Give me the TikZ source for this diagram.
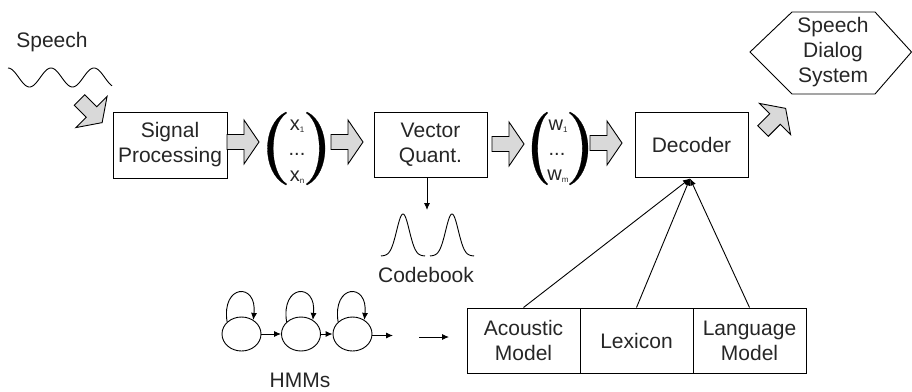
\documentclass[tikz,border=0pt]{standalone}
\usepackage{fontspec}
\setmainfont{Liberation Sans}
\usetikzlibrary{arrows.meta,shapes.geometric}
\newcommand{\vsub}[1]{\raisebox{-2pt}{\fontsize{8}{8}\selectfont #1}}
\begin{document}
\begin{tikzpicture}[x=1pt,y=-1pt,
  every node/.style={text=black!85, font=\fontsize{21}{25}\selectfont},
  box/.style={draw=black, line width=1pt, minimum width=113pt, minimum height=65pt, align=center, inner sep=0pt},
  arr/.style={-{Latex[length=7pt,width=6pt]}, line width=0.9pt},
  hmmstate/.style={draw=black, ellipse, minimum width=39pt, minimum height=34pt, inner sep=0pt, line width=0.9pt},
  vec/.style={font=\fontsize{20}{20}\selectfont, anchor=base, inner sep=0pt},
  paren/.style={fill=black, draw=black, line width=0.3pt},
  barrow/.pic={\draw[fill=gray!30, line width=0.9pt, line join=miter]
    (0,-7.5) -- (17,-7.5) -- (17,-22) -- (32,0) -- (17,22) -- (17,7.5) -- (0,7.5) -- cycle;}]
\useasboundingbox (0,0) rectangle (912,391);

% speech input
\node (speech) at (52,42) {Speech};
\draw[line width=0.9pt] plot[domain=8:112, samples=90, smooth] ({\x},{77.5-9.5*cos(8.372*(\x-8))});
\pic[rotate=-45] at (79.5,100) {barrow};

% processing chain
\node[box, minimum width=114pt, minimum height=66pt] (sp) at (170,145) {Signal\\Processing};
\pic at (227,142) {barrow};

% feature vector
\fill[paren] (286,112) .. controls (261.3,124) and (261.3,173) .. (286,185)
  -- (286.6,184) .. controls (268.7,172) and (268.7,125) .. (286.6,113) -- cycle;
\fill[paren] (307,112) .. controls (331,124) and (331,173) .. (307,185)
  -- (306.4,184) .. controls (323.7,172) and (323.7,125) .. (306.4,113) -- cycle;
\node[vec] (x1) at (297,130) {x\vsub{1}};
\node[vec] (xd) at (297,155) {...};
\node[vec] (xn) at (297,181) {x\vsub{n}};
\pic at (331,142) {barrow};

\node[box] (vq) at (430.5,144.5) {Vector\\Quant.};
\pic at (492,144) {barrow};

% symbol vector
\fill[paren] (547,112) .. controls (527,124) and (527,173) .. (547,185)
  -- (547.6,184) .. controls (534.3,172) and (534.3,125) .. (547.6,113) -- cycle;
\fill[paren] (570,112) .. controls (594,124) and (594,173) .. (570,185)
  -- (569.4,184) .. controls (586.7,172) and (586.7,125) .. (569.4,113) -- cycle;
\node[vec] (w1) at (558,130) {w\vsub{1}};
\node[vec] (wd) at (557,155) {...};
\node[vec] (wm) at (558,180) {w\vsub{m}};
\pic at (590,143) {barrow};

\node[box] (dec) at (691.5,144.5) {Decoder};
\pic[rotate=45] at (763,131) {barrow};

% output
\node[align=center] (sds) at (833,52) {Speech\\Dialog\\System};
\draw[line width=0.9pt] (750,52) -- (792,12) -- (875,12) -- (911.5,52) -- (875,94) -- (792,94) -- cycle;

% codebook
\coordinate (cb) at (427,210);
\draw[arr] (vq.south -| cb) -- (cb);
\draw[line width=0.9pt] plot[domain=-22:22, samples=70, smooth] ({403+\x},{256-42*exp(-(\x*\x)/80)});
\draw[line width=0.9pt] plot[domain=-22:22, samples=70, smooth] ({452+\x},{256-42*exp(-(\x*\x)/80)});
\node (codebook) at (426,275) {Codebook};

% knowledge sources
\node[box] (am) at (523.5,340.5) {Acoustic\\Model};
\node[box] (lex) at (636.5,340.5) {Lexicon};
\node[box] (lm) at (749.5,340.5) {Language\\Model};
\coordinate (jn) at (690,178.5);
\draw[arr] (am.north) -- (jn);
\draw[arr] (lex.north) -- (jn);
\draw[arr] (lm.north) -- (jn);

% HMM chain
\node[hmmstate] (s1) at (241.5,334) {};
\node[hmmstate] (s2) at (301,334) {};
\node[hmmstate] (s3) at (352.5,334) {};
\foreach \s in {s1,s2,s3}
  \draw[arr] (\s.140) .. controls +(-6,-38) and +(4,-38) .. (\s.50);
\draw[arr] (s1.east) -- (s2.west);
\draw[arr] (s2.east) -- (s3.west);
\coordinate (hend) at (393,335.5);
\draw[arr] (s3.east |- hend) -- (hend);
\coordinate (ha) at (419,337);
\coordinate (hb) at (449,337);
\draw[arr] (ha) -- (hb);
\node[inner sep=0pt] (hmms) at (300,380) {HMMs};
\end{tikzpicture}
\end{document}
